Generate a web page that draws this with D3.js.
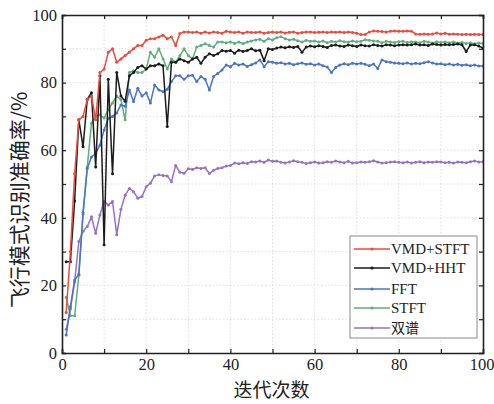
<!DOCTYPE html>
<html>
<head>
<meta charset="utf-8">
<script src="https://cdn.jsdelivr.net/npm/d3@7/dist/d3.min.js"></script>
<style>
  html, body { margin: 0; padding: 0; background: #fff; }
  svg { display: block; }
</style>
</head>
<body>
<svg id="chart" width="494" height="404"></svg>
<script>
// ---------- data ----------
const iterations = d3.range(1, 101);

const vmdStft = [
  12, 30, 53, 69, 70, 75, 76, 69, 83, 84,
  89, 90, 86, 87, 88, 89, 90, 91, 91, 92.5,
  93, 93, 93.5, 94, 93, 93.5, 91, 94.5, 95, 95,
  94.8, 95, 94.6, 95, 94.7, 95, 94.8, 94.6, 95.2, 95,
  94.8, 95, 94.6, 95, 94.8, 94.8, 95, 94.6, 94.8, 95,
  94.8, 95, 94.7, 94.9, 95, 94.6, 94.8, 95, 95, 94.8,
  94.9, 95, 94.8, 95, 94.9, 95, 94.8, 95, 94.8, 94.6,
  94.2, 94.2, 95, 95.3, 95.2, 95.1, 95, 95.2, 95.3, 95.2,
  95.2, 95.3, 95.2, 94.4, 94.3, 94.4, 94.3, 94.4, 94.7, 94.4,
  94.6, 94.3, 94.4, 94.3, 94.2, 94.3, 94.2, 94.3, 94.2, 94.2
];

const vmdHht = [
  27, 27, 45, 69, 61, 75, 77, 55, 82, 32,
  81, 53, 83, 76, 74.5, 82, 83, 84.5, 85, 84,
  85, 85, 85.5, 85, 67, 86, 86, 87, 86.5, 86,
  87, 87.5, 85.7, 87.5, 88.5, 88, 88.5, 89.5, 89.3, 89.5,
  88.7, 89.6, 89.2, 89.5, 90, 89.4, 89.6, 86.5, 90, 89.8,
  90.2, 90.5, 90.3, 90.6, 90.4, 90.7, 89, 90.5, 90.8, 90.6,
  90.9, 90.7, 90.4, 91, 91.1, 90.8, 90.7, 91.1, 90.9, 90.7,
  91.1, 90.9, 90.8, 91.2, 91, 90.8, 91.2, 91.1, 90.9, 91.1,
  91.2, 91.1, 91.2, 91.4, 91.1, 91.2, 91, 91.4, 91.3, 91.1,
  91.3, 91.2, 91.3, 91.4, 91.2, 89.2, 91.1, 91.2, 90.8, 90.2
];

const fft = [
  5.3, 13.7, 21.6, 23.3, 41.6, 54.6, 58, 59, 61.5, 66,
  69.4, 70, 71, 73.4, 73, 77.8, 74.4, 78.3, 76, 77,
  74, 79.3, 77.8, 77.3, 78, 80.3, 82, 82, 81, 82,
  82.2, 80.3, 81.8, 81, 77.8, 81.8, 82.7, 83.7, 85.2, 84.7,
  85.7, 85.2, 85.5, 84.8, 85.3, 85.8, 86.7, 84.7, 86.2, 86,
  85.7, 85.9, 85.5, 85.7, 85.3, 85.6, 85.8, 85.4, 85.6, 85.2,
  85.5, 85, 84.6, 83, 84.5, 85.2, 85.6, 85.3, 85.7, 85.5,
  85.7, 85.4, 85, 85.5, 84.2, 86.7, 86.2, 86, 85.8, 85.7,
  85.6, 85.8, 85.5, 85.7, 85.6, 85.9, 86.2, 85.8, 85.5, 85.6,
  85.3, 85.5, 85.2, 85.4, 85.1, 85.3, 85, 85.2, 84.9, 84.9
];

const stft = [
  16.5, 11, 11, 23, 41, 55, 68, 70, 70.5, 69.5,
  72, 74, 76, 75, 69, 83, 83.5, 83, 83, 84,
  89, 87.5, 90, 87, 84, 87, 86, 88, 90, 88,
  87, 90.5, 91, 91.5, 91, 90.5, 92, 92, 91.8, 92,
  91.6, 92, 91.5, 92, 92.3, 92.6, 92.8, 92.2, 93, 92.6,
  93.3, 93.6, 93, 92.6, 92.8, 92.4, 92, 92.5, 92.2, 92.3,
  92, 92.3, 91.8, 92.2, 92, 92.4, 92.1, 92, 92.3, 92.1,
  92.2, 92.7, 92.5, 92.3, 92.2, 91.8, 92.2, 92, 91.9, 92.1,
  92.2, 91.9, 92.1, 92, 91.8, 92.2, 92, 91.7, 92.1, 91.9,
  92, 91.8, 92, 91.7, 91.9, 91.6, 91.8, 91.5, 91.7, 91.6
];

const bispectrum = [
  7, 13, 21, 33, 36, 37.4, 40.3, 35.4, 40.8, 44.8,
  43.8, 44.8, 35, 42.5, 46.7, 48.7, 47.7, 45.8, 46.3, 49.2,
  50.2, 52.4, 52.7, 52.5, 52.4, 50.7, 55.5, 53.5, 53.2, 54.5,
  54.3, 54.8, 54.6, 54.8, 53.1, 54.1, 54.6, 54.8, 55.3, 55.5,
  56.2, 56, 56.3, 56.1, 56.6, 56.5, 56.8, 56.4, 57.1, 56.7,
  56.8, 56.4, 56.2, 56.5, 56.9, 56.6, 56.4, 56.1, 56.3, 56.5,
  56.2, 56.3, 56.6, 56.4, 56.8, 56.5, 56.3, 56.7, 56.2, 56.3,
  56.5, 56.4, 56.6, 56.9, 56.5, 56.2, 56.3, 56.5, 56.6, 56.4,
  56.3, 56.5, 56.2, 56.4, 56.6, 56.3, 56.5, 56.4, 56.6, 56.5,
  56.3, 56.4, 56.2, 56.5, 56.4, 56.3, 56.6, 56.8, 56.5, 56.6
];

const seriesNames = ["VMD+STFT", "VMD+HHT", "FFT", "STFT", "双谱"];
const seriesColors = ["#ee4a3e", "#1c1c1c", "#4a74c6", "#5fae7c", "#9572c9"];
const seriesValues = [vmdStft, vmdHht, fft, stft, bispectrum];

const xTicks = [0, 20, 40, 60, 80, 100];
const yTicks = [0, 20, 40, 60, 80, 100];
const xTitle = "迭代次数";
const yTitle = "飞行模式识别准确率/%";

// ---------- layout ----------
const W = 494, H = 404;
const m = { left: 62, right: 11, top: 15, bottom: 51 };
const pw = W - m.left - m.right, ph = H - m.top - m.bottom;

const svg = d3.select("#chart");
const g = svg.append("g").attr("transform", `translate(${m.left},${m.top})`);

const x = d3.scaleLinear().domain([0, 100]).range([0, pw]);
const y = d3.scaleLinear().domain([0, 100]).range([ph, 0]);

const serif = "'Liberation Serif', 'Times New Roman', serif";
const cjk = "'Noto Sans CJK SC', 'Liberation Serif', serif";

// grid (dotted every 10)
const gridVals = d3.range(10, 100, 10);
g.append("g").selectAll("line").data(gridVals).join("line")
  .attr("x1", d => x(d)).attr("x2", d => x(d)).attr("y1", 0).attr("y2", ph)
  .attr("stroke", "#d9d6d2").attr("stroke-width", 0.8).attr("stroke-dasharray", "1.5,2");
g.append("g").selectAll("line").data(gridVals).join("line")
  .attr("y1", d => y(d)).attr("y2", d => y(d)).attr("x1", 0).attr("x2", pw)
  .attr("stroke", "#d9d6d2").attr("stroke-width", 0.8).attr("stroke-dasharray", "1.5,2");

// clip
svg.append("defs").append("clipPath").attr("id", "clip")
  .append("rect").attr("x", 0).attr("y", 0).attr("width", pw).attr("height", ph);

const line = d3.line().x((d, i) => x(iterations[i])).y(d => y(d));

const plot = g.append("g").attr("clip-path", "url(#clip)");
for (let s = seriesValues.length - 1; s >= 0; s--) {
  const vals = seriesValues[s];
  plot.append("path").datum(vals)
    .attr("fill", "none").attr("stroke", seriesColors[s])
    .attr("stroke-width", 1.5).attr("stroke-linejoin", "round")
    .attr("d", line);
  plot.append("g").selectAll("circle").data(vals).join("circle")
    .attr("cx", (d, i) => x(iterations[i])).attr("cy", d => y(d))
    .attr("r", 1.5).attr("fill", seriesColors[s]);
}

// axes (ticks inward, every 10)
const tickVals = d3.range(0, 101, 10);
const axB = d3.axisBottom(x).tickValues(tickVals).tickSize(-4).tickFormat(d => xTicks.includes(d) ? d : "");
const axT = d3.axisTop(x).tickValues(tickVals).tickSize(-4).tickFormat("");
const axL = d3.axisLeft(y).tickValues(tickVals).tickSize(-4).tickFormat(d => yTicks.includes(d) ? d : "");
const axR = d3.axisRight(y).tickValues(tickVals).tickSize(-4).tickFormat("");

function styleAxis(sel) {
  sel.selectAll(".domain").attr("stroke", "#222").attr("stroke-width", 1.6);
  sel.selectAll(".tick line").attr("stroke", "#222").attr("stroke-width", 1.2);
  sel.selectAll("text").attr("font-family", serif).attr("font-size", 16.5).attr("fill", "#222");
}
const gB = g.append("g").attr("transform", `translate(0,${ph})`).call(axB).call(styleAxis);
gB.selectAll("text").attr("dy", "0.9em").attr("y", 2);
gB.selectAll(".tick").filter(d => d === 100).select("text").attr("text-anchor", "end").attr("dx", 11);
g.append("g").call(axT).call(styleAxis);
const gL = g.append("g").call(axL).call(styleAxis);
gL.selectAll("text").attr("x", -5);
g.append("g").attr("transform", `translate(${pw},0)`).call(axR).call(styleAxis);

// titles
svg.append("text").attr("x", m.left + pw / 2 - 1).attr("y", 397)
  .attr("text-anchor", "middle").attr("font-family", cjk).attr("font-size", 19)
  .attr("fill", "#222").text(xTitle);
svg.append("text").attr("transform", `translate(27,200) rotate(-90)`)
  .attr("text-anchor", "middle").attr("font-family", cjk).attr("font-size", 21)
  .attr("fill", "#222").text(yTitle);

// legend
const lg = svg.append("g").attr("transform", "translate(350,236)");
lg.append("rect").attr("x", 0).attr("y", 0).attr("width", 127).attr("height", 102)
  .attr("fill", "#fff").attr("stroke", "#8a8a8a").attr("stroke-width", 1);
const rowY = [13, 32, 53, 72, 92];
seriesNames.forEach((name, i) => {
  const row = lg.append("g").attr("transform", `translate(0,${rowY[i]})`);
  row.append("line").attr("x1", 4).attr("x2", 40).attr("y1", 0).attr("y2", 0)
    .attr("stroke", seriesColors[i]).attr("stroke-width", 1.5);
  row.append("circle").attr("cx", 22).attr("cy", 0).attr("r", 1.6).attr("fill", seriesColors[i]);
  row.append("text").attr("x", 41).attr("y", 0).attr("dy", "0.35em")
    .attr("font-family", i === 4 ? cjk : serif).attr("font-size", i === 4 ? 14 : 15)
    .attr("fill", "#222").text(name);
});
</script>
</body>
</html>
